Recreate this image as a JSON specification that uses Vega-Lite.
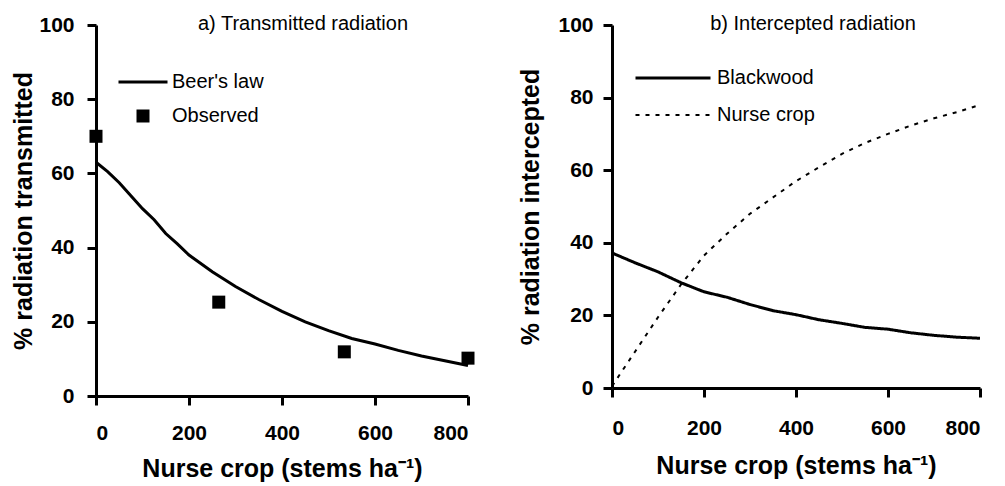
{
  "$schema": "https://vega.github.io/schema/vega-lite/v6.json",
  "background": "white",
  "padding": {"left": 11, "top": 14, "right": 5, "bottom": 5},
  "spacing": 144,
  "bounds": "flush",
  "resolve": {
    "scale": {"x": "independent", "y": "independent", "shape": "independent", "strokeDash": "independent", "strokeWidth": "independent"},
    "legend": {"shape": "independent", "strokeDash": "independent", "strokeWidth": "independent"}
  },
  "config": {
    "font": "Liberation Sans",
    "view": {"stroke": null},
    "axis": {
      "grid": false,
      "labelFont": "Liberation Sans",
      "labelColor": "black",
      "titleFont": "Liberation Sans",
      "titleColor": "black"
    },
    "legend": {
      "labelFont": "Liberation Sans",
      "labelFontSize": 20,
      "labelColor": "black"
    },
    "title": {
      "font": "Liberation Sans",
      "fontSize": 20,
      "fontWeight": "normal",
      "color": "black"
    }
  },
  "hconcat": [
    {
      "width": 372,
      "height": 371,
      "title": {"text": "a) Transmitted radiation", "anchor": "middle", "dx": 21, "dy": 24},
      "layer": [
        {
          "data": {"values": [
            {"n": 0, "pct": 63},
            {"n": 25, "pct": 60.5},
            {"n": 50, "pct": 57.5},
            {"n": 75, "pct": 54},
            {"n": 100, "pct": 50.5},
            {"n": 125, "pct": 47.5},
            {"n": 150, "pct": 43.8},
            {"n": 175, "pct": 41},
            {"n": 200, "pct": 38},
            {"n": 250, "pct": 33.5},
            {"n": 300, "pct": 29.5},
            {"n": 350, "pct": 26},
            {"n": 400, "pct": 22.8},
            {"n": 450, "pct": 20},
            {"n": 500, "pct": 17.6},
            {"n": 550, "pct": 15.5},
            {"n": 600, "pct": 14},
            {"n": 650, "pct": 12.3},
            {"n": 700, "pct": 10.8},
            {"n": 750, "pct": 9.5},
            {"n": 800, "pct": 8.2}
          ]},
          "mark": {"type": "line", "color": "black", "strokeWidth": 3},
          "encoding": {
            "x": {"field": "n", "type": "quantitative", "scale": {"domain": [0, 800], "nice": false},
                  "axis": {"values": [0, 200, 400, 600, 800], "title": "Nurse crop (stems ha⁻¹)", "ticks": true,
                           "domain": true, "domainWidth": 3, "domainColor": "#000000", "tickWidth": 3, "tickSize": 9, "tickColor": "#000000",
                           "labelFontSize": 21, "labelFontWeight": "bold", "titleFontSize": 25, "titleFontWeight": "bold",
                           "labelPadding": 17, "titlePadding": 13}},
            "y": {"field": "pct", "type": "quantitative", "scale": {"domain": [0, 100], "nice": false},
                  "axis": {"values": [0, 20, 40, 60, 80, 100], "title": "% radiation transmitted", "ticks": true,
                           "domain": true, "domainWidth": 3, "domainColor": "#000000", "tickWidth": 3, "tickSize": 9, "tickColor": "#000000",
                           "labelFontSize": 21, "labelFontWeight": "bold", "titleFontSize": 25, "titleFontWeight": "bold",
                           "labelPadding": 13, "titlePadding": 2}}
          }
        },
        {
          "data": {"values": [
            {"n": 0, "pct": 70, "series": "Observed"},
            {"n": 264, "pct": 25.3, "series": "Observed"},
            {"n": 534, "pct": 11.9, "series": "Observed"},
            {"n": 800, "pct": 10.2, "series": "Observed"}
          ]},
          "mark": {"type": "point", "filled": true, "color": "black", "size": 169, "opacity": 1},
          "encoding": {
            "x": {"field": "n", "type": "quantitative"},
            "y": {"field": "pct", "type": "quantitative"},
            "shape": {"field": "series", "type": "nominal",
                      "scale": {"domain": ["Beer's law", "Observed"], "range": ["M-3.77,-0.23H3.77V0.23H-3.77Z", "square"]},
                      "legend": {"title": null, "orient": "none", "legendX": 37, "legendY": 47, "padding": 0,
                                 "symbolSize": 169, "symbolFillColor": "black", "symbolOpacity": 1,
                                 "labelOffset": 19, "rowPadding": 14}}
          }
        }
      ]
    },
    {
      "width": 368,
      "height": 363,
      "title": {"text": "b) Intercepted radiation", "anchor": "middle", "dx": 17, "dy": 24},
      "data": {"values": [
        {"n": 0, "pct": 37.2, "series": "Blackwood"},
        {"n": 50, "pct": 34.5, "series": "Blackwood"},
        {"n": 100, "pct": 32, "series": "Blackwood"},
        {"n": 150, "pct": 29, "series": "Blackwood"},
        {"n": 200, "pct": 26.5, "series": "Blackwood"},
        {"n": 250, "pct": 25, "series": "Blackwood"},
        {"n": 300, "pct": 23, "series": "Blackwood"},
        {"n": 350, "pct": 21.3, "series": "Blackwood"},
        {"n": 400, "pct": 20.2, "series": "Blackwood"},
        {"n": 450, "pct": 18.8, "series": "Blackwood"},
        {"n": 500, "pct": 17.8, "series": "Blackwood"},
        {"n": 550, "pct": 16.7, "series": "Blackwood"},
        {"n": 600, "pct": 16.2, "series": "Blackwood"},
        {"n": 650, "pct": 15.2, "series": "Blackwood"},
        {"n": 700, "pct": 14.5, "series": "Blackwood"},
        {"n": 750, "pct": 14, "series": "Blackwood"},
        {"n": 800, "pct": 13.7, "series": "Blackwood"},
        {"n": 0, "pct": 0.5, "series": "Nurse crop"},
        {"n": 50, "pct": 10, "series": "Nurse crop"},
        {"n": 100, "pct": 19.5, "series": "Nurse crop"},
        {"n": 150, "pct": 28.5, "series": "Nurse crop"},
        {"n": 200, "pct": 36.5, "series": "Nurse crop"},
        {"n": 250, "pct": 42.5, "series": "Nurse crop"},
        {"n": 300, "pct": 48, "series": "Nurse crop"},
        {"n": 350, "pct": 52.5, "series": "Nurse crop"},
        {"n": 400, "pct": 57, "series": "Nurse crop"},
        {"n": 450, "pct": 60.8, "series": "Nurse crop"},
        {"n": 500, "pct": 64.5, "series": "Nurse crop"},
        {"n": 550, "pct": 67.5, "series": "Nurse crop"},
        {"n": 600, "pct": 70, "series": "Nurse crop"},
        {"n": 650, "pct": 72.3, "series": "Nurse crop"},
        {"n": 700, "pct": 74.3, "series": "Nurse crop"},
        {"n": 750, "pct": 76, "series": "Nurse crop"},
        {"n": 800, "pct": 78, "series": "Nurse crop"}
      ]},
      "mark": {"type": "line", "color": "black"},
      "encoding": {
        "x": {"field": "n", "type": "quantitative", "scale": {"domain": [0, 800], "nice": false},
              "axis": {"values": [0, 200, 400, 600, 800], "title": "Nurse crop (stems ha⁻¹)", "ticks": true,
                       "domain": true, "domainWidth": 3, "domainColor": "#000000", "tickWidth": 3, "tickSize": 9, "tickColor": "#000000",
                       "labelFontSize": 21, "labelFontWeight": "bold", "titleFontSize": 25, "titleFontWeight": "bold",
                       "labelPadding": 20, "titlePadding": 15}},
        "y": {"field": "pct", "type": "quantitative", "scale": {"domain": [0, 100], "nice": false},
              "axis": {"values": [0, 20, 40, 60, 80, 100], "title": "% radiation intercepted", "ticks": true,
                       "domain": true, "domainWidth": 3, "domainColor": "#000000", "tickWidth": 3, "tickSize": 9, "tickColor": "#000000",
                       "labelFontSize": 21, "labelFontWeight": "bold", "titleFontSize": 25, "titleFontWeight": "bold",
                       "labelPadding": 10, "titlePadding": 14}},
        "strokeDash": {"field": "series", "type": "nominal",
                       "scale": {"domain": ["Blackwood", "Nurse crop"], "range": [[1, 0], [4, 6]]},
                       "legend": {"title": null, "orient": "none", "legendX": 51, "legendY": 43, "padding": 0,
                                  "symbolType": "M-7.5,0H7.5", "symbolSize": 100, "symbolStrokeColor": "black",
                                  "labelOffset": 34, "rowPadding": 17}},
        "strokeWidth": {"field": "series", "type": "nominal",
                        "scale": {"domain": ["Blackwood", "Nurse crop"], "range": [3, 2]},
                        "legend": {"title": null, "orient": "none", "legendX": 51, "legendY": 43, "padding": 0,
                                   "symbolType": "M-7.5,0H7.5", "symbolSize": 100, "symbolStrokeColor": "black",
                                   "labelOffset": 34, "rowPadding": 17}}
      }
    }
  ]
}
